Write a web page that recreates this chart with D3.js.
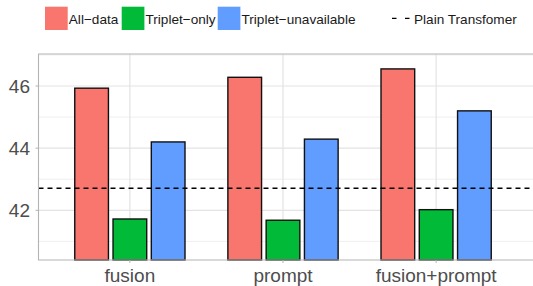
<!DOCTYPE html>
<html>
<head>
<meta charset="utf-8">
<script src="https://cdn.jsdelivr.net/npm/d3@7"></script>
<style>
  html, body { margin: 0; padding: 0; background: #fff; }
  svg { display: block; font-family: "Liberation Sans", Arial, sans-serif; }
</style>
</head>
<body>
<div id="chart"></div>
<script>
// Grouped bars per method, with a dashed baseline for the plain model

const categories = ['fusion', 'prompt', 'fusion+prompt'];
const series = ['All\u2212data', 'Triplet\u2212only', 'Triplet\u2212unavailable'];
const allData = [45.93, 46.28, 46.55];
const tripletOnly = [41.72, 41.68, 42.02];
const tripletUnavailable = [44.20, 44.29, 45.20];
const baselineValue = 42.71;
const baselineLabel = 'Plain Transfomer';
const yTicks = [42, 44, 46];
const yMinorTicks = [41, 43, 45, 47];
const yDomain = [40.4, 47.03];

const colors = ['#F8766D', '#00BA38', '#619CFF'];
const values = [allData, tripletOnly, tripletUnavailable];

const width = 533, height = 286;
const panel = { left: 38.5, top: 54, right: 533, bottom: 260 };

const svg = d3.select('#chart').append('svg')
    .attr('width', width).attr('height', height);

const x = d3.scaleBand().domain(categories)
    .range([38, 528]).paddingInner(0).paddingOuter(0.1);
const step = x.step();
const xSub = d3.scaleBand().domain(series)
    .range([-0.375 * step, 0.375 * step]).paddingInner(0.12).paddingOuter(0.06);
const y = d3.scaleLinear().domain(yDomain).range([panel.bottom, panel.top]);

const grid = svg.append('g');
for (const t of yMinorTicks) {
    grid.append('line')
        .attr('x1', panel.left).attr('x2', panel.right)
        .attr('y1', y(t)).attr('y2', y(t))
        .attr('stroke', '#EBEBEB').attr('stroke-width', 0.8);
}
for (const t of yTicks) {
    grid.append('line')
        .attr('x1', panel.left).attr('x2', panel.right)
        .attr('y1', y(t)).attr('y2', y(t))
        .attr('stroke', '#E3E3E3').attr('stroke-width', 1.2);
}
for (const c of categories) {
    const cx = x(c) + x.bandwidth() / 2;
    grid.append('line')
        .attr('x1', cx).attr('x2', cx)
        .attr('y1', panel.top).attr('y2', panel.bottom)
        .attr('stroke', '#E3E3E3').attr('stroke-width', 1.2);
}

// Bars
const bars = svg.append('g');
series.forEach((s, si) => {
    categories.forEach((c, ci) => {
        const cx = x(c) + x.bandwidth() / 2;
        const v = values[si][ci];
        bars.append('rect')
            .attr('x', cx + xSub(s)).attr('width', xSub.bandwidth())
            .attr('y', y(v)).attr('height', panel.bottom - y(v))
            .attr('fill', colors[si])
            .attr('stroke', '#111').attr('stroke-width', 1.4);
    });
});

// Baseline
svg.append('line')
    .attr('x1', panel.left).attr('x2', panel.right)
    .attr('y1', y(baselineValue)).attr('y2', y(baselineValue))
    .attr('stroke', '#000').attr('stroke-width', 1.3)
    .attr('stroke-dasharray', '5,4');

// Panel border (left, top, bottom)
svg.append('path')
    .attr('d', `M${panel.right},${panel.top}H${panel.left}V${panel.bottom}H${panel.right}`)
    .attr('fill', 'none').attr('stroke', '#B3B3B3').attr('stroke-width', 1.1);

// Y axis labels and ticks
const yAxis = svg.append('g');
for (const t of yTicks) {
    yAxis.append('line')
        .attr('x1', panel.left - 3).attr('x2', panel.left)
        .attr('y1', y(t)).attr('y2', y(t))
        .attr('stroke', '#B3B3B3').attr('stroke-width', 1);
    yAxis.append('text')
        .attr('x', 30).attr('y', y(t))
        .attr('text-anchor', 'end').attr('dominant-baseline', 'central')
        .attr('fill', '#4D4D4D').attr('font-size', '19px')
        .text(t);
}

// X axis labels and ticks
const xAxis = svg.append('g');
for (const c of categories) {
    const cx = x(c) + x.bandwidth() / 2;
    xAxis.append('line')
        .attr('x1', cx).attr('x2', cx)
        .attr('y1', panel.bottom).attr('y2', panel.bottom + 3)
        .attr('stroke', '#B3B3B3').attr('stroke-width', 1);
    xAxis.append('text')
        .attr('x', cx).attr('y', 282)
        .attr('text-anchor', 'middle')
        .attr('fill', '#4D4D4D').attr('font-size', '19px')
        .text(c);
}

// Legend
const legend = svg.append('g');
const keyX = [45, 121.7, 217.7];
series.forEach((s, i) => {
    legend.append('rect')
        .attr('x', keyX[i]).attr('y', 6.7)
        .attr('width', 22.7).attr('height', 23.3)
        .attr('fill', colors[i]);
    legend.append('text')
        .attr('x', keyX[i] + 23.8).attr('y', 23.5)
        .attr('fill', '#1a1a1a').attr('font-size', '13.6px')
        .text(s);
});
legend.append('line')
    .attr('x1', 392).attr('x2', 410.5)
    .attr('y1', 18.4).attr('y2', 18.4)
    .attr('stroke', '#000').attr('stroke-width', 1.3)
    .attr('stroke-dasharray', '4.5,8.5');
legend.append('text')
    .attr('x', 414).attr('y', 23.5)
    .attr('fill', '#1a1a1a').attr('font-size', '13.6px')
    .text(baselineLabel);
</script>
</body>
</html>
